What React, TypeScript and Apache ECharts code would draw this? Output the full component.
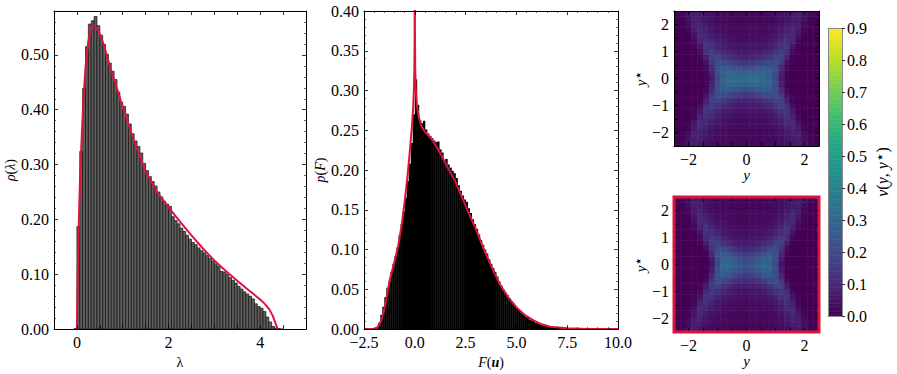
import React, { useEffect, useRef } from 'react';
import * as echarts from 'echarts';

const FONT = '"Liberation Serif", "Times New Roman", "DejaVu Serif", serif';
const RED = '#dc143c';
const VIRIDIS = ['#440154', '#482475', '#414487', '#355f8d', '#2a788e', '#21918c', '#22a884', '#44bf70', '#7ad151', '#bddf26', '#fde725'];

// ---------- panel 1: rho(lambda) ----------
const LAMBDA_BIN_START = -0.0625;
const LAMBDA_BIN_WIDTH = 0.0625;
const LAMBDA_HIST = [
  0.001,
  0.187, 0.324, 0.439, 0.515, 0.556, 0.562, 0.570, 0.553,
  0.536, 0.519, 0.501, 0.485, 0.470, 0.455, 0.432, 0.414,
  0.406, 0.392, 0.374, 0.356, 0.343, 0.333, 0.321, 0.302,
  0.289, 0.278, 0.269, 0.261, 0.250, 0.241, 0.233, 0.228,
  0.224, 0.205, 0.198, 0.192, 0.184, 0.178, 0.171, 0.164,
  0.158, 0.154, 0.148, 0.143, 0.139, 0.134, 0.129, 0.124,
  0.119, 0.114, 0.105, 0.104, 0.100, 0.094, 0.089, 0.084,
  0.078, 0.073, 0.068, 0.064, 0.060, 0.055, 0.046, 0.041,
  0.038, 0.032, 0.022, 0.013, 0.005, 0.002, 0.001, 0.0,
];
const LAMBDA_CURVE_X = [0, 0.02, 0.04, 0.07, 0.1, 0.14, 0.19, 0.25, 0.3, 0.35, 0.42, 0.5, 0.6, 0.75, 0.9, 1.0, 1.25, 1.5, 1.75, 2.0, 2.25, 2.5, 2.75, 3.0, 3.25, 3.5, 3.75, 4.0, 4.1, 4.2, 4.27, 4.32, 4.36, 4.38];
const LAMBDA_CURVE_Y = [0, 0.11, 0.19, 0.28, 0.34, 0.415, 0.48, 0.525, 0.547, 0.554, 0.55, 0.538, 0.515, 0.47, 0.432, 0.405, 0.342, 0.288, 0.25, 0.222, 0.196, 0.171, 0.147, 0.125, 0.106, 0.088, 0.071, 0.054, 0.046, 0.036, 0.025, 0.014, 0.005, 0];

// ---------- panel 2: p(F) ----------
const F_BIN_START = -2.0;
const F_BIN_WIDTH = 0.1;
const F_HIST = [
  0.000, 0.002, 0.008, 0.018, 0.028, 0.040, 0.052, 0.060, 0.072, 0.082,
  0.092, 0.103, 0.118, 0.132, 0.148, 0.165, 0.186, 0.208, 0.234, 0.270,
  0.314, 0.282, 0.263, 0.259, 0.262, 0.251, 0.246, 0.243, 0.240, 0.237,
  0.235, 0.236, 0.226, 0.222, 0.212, 0.214, 0.207, 0.203, 0.199, 0.196,
  0.190, 0.181, 0.174, 0.168, 0.163, 0.160, 0.152, 0.146, 0.138, 0.132,
  0.126, 0.119, 0.112, 0.106, 0.100, 0.095, 0.088, 0.082, 0.077, 0.072,
  0.066, 0.060, 0.055, 0.050, 0.046, 0.043, 0.039, 0.035, 0.032, 0.029,
  0.026, 0.023, 0.020, 0.018, 0.016, 0.014, 0.012, 0.011, 0.010, 0.008,
  0.007, 0.006, 0.005, 0.0045, 0.004, 0.0035, 0.003, 0.0025, 0.002, 0.0018,
  0.0015, 0.0012, 0.001, 0.0009, 0.0008, 0.0006, 0.0005, 0.0004, 0.0003, 0.0002,
];
const F_CURVE_X = [-2.5, -2.0, -1.85, -1.7, -1.55, -1.4, -1.23, -1.0, -0.82, -0.65, -0.49, -0.35, -0.25, -0.15, -0.08, -0.04, -0.02, -0.008, 0, 0.008, 0.02, 0.05, 0.1, 0.2, 0.33, 0.5, 0.82, 1.0, 1.32, 1.6, 1.97, 2.2, 2.55, 3.0, 3.37, 3.8, 4.19, 4.6, 5.02, 5.4, 5.84, 6.25, 6.66, 7.5, 8.5, 10];
const F_CURVE_Y = [0, 0, 0.002, 0.008, 0.02, 0.038, 0.062, 0.085, 0.104, 0.13, 0.162, 0.195, 0.222, 0.252, 0.279, 0.305, 0.33, 0.37, 0.46, 0.37, 0.33, 0.3, 0.283, 0.266, 0.255, 0.248, 0.239, 0.232, 0.218, 0.204, 0.187, 0.173, 0.152, 0.126, 0.102, 0.077, 0.056, 0.04, 0.027, 0.018, 0.011, 0.006, 0.003, 0.001, 0.0002, 0];

// ---------- heatmaps nu(y, y*) ----------
// quadrant grids: rows = |y*| = 0, 0.2, ..., 2.4 ; columns = |y| = 0, 0.2, ..., 2.4
const GRID_STEP = 0.2;
const NU_SAMPLED_QUADRANT = [
  [0.31, 0.32, 0.32, 0.31, 0.28, 0.19, 0.06, 0.01, 0, 0, 0, 0, 0],
  [0.28, 0.29, 0.30, 0.30, 0.28, 0.21, 0.08, 0.01, 0, 0, 0, 0, 0],
  [0.21, 0.22, 0.24, 0.26, 0.26, 0.22, 0.11, 0.02, 0, 0, 0, 0, 0],
  [0.14, 0.15, 0.17, 0.19, 0.21, 0.21, 0.15, 0.04, 0.005, 0, 0, 0, 0],
  [0.09, 0.095, 0.105, 0.125, 0.15, 0.18, 0.17, 0.08, 0.01, 0, 0, 0, 0],
  [0.065, 0.067, 0.072, 0.085, 0.105, 0.135, 0.16, 0.12, 0.03, 0, 0, 0, 0],
  [0.048, 0.049, 0.053, 0.06, 0.073, 0.095, 0.13, 0.135, 0.06, 0.01, 0, 0, 0],
  [0.038, 0.039, 0.042, 0.047, 0.056, 0.072, 0.10, 0.125, 0.09, 0.02, 0, 0, 0],
  [0.031, 0.031, 0.034, 0.038, 0.045, 0.056, 0.077, 0.105, 0.105, 0.045, 0.006, 0, 0],
  [0.026, 0.026, 0.028, 0.031, 0.036, 0.045, 0.06, 0.083, 0.10, 0.065, 0.014, 0, 0],
  [0.022, 0.022, 0.024, 0.027, 0.031, 0.037, 0.048, 0.066, 0.088, 0.075, 0.025, 0.004, 0],
  [0.019, 0.019, 0.02, 0.023, 0.026, 0.031, 0.04, 0.053, 0.072, 0.078, 0.038, 0.009, 0],
  [0.016, 0.016, 0.017, 0.019, 0.022, 0.027, 0.034, 0.044, 0.06, 0.072, 0.046, 0.015, 0.003],
];
const NU_THEORY_QUADRANT = [
  [0.22, 0.24, 0.27, 0.30, 0.29, 0.20, 0.05, 0, 0, 0, 0, 0, 0],
  [0.20, 0.22, 0.25, 0.28, 0.28, 0.21, 0.07, 0, 0, 0, 0, 0, 0],
  [0.15, 0.16, 0.19, 0.23, 0.25, 0.22, 0.10, 0.01, 0, 0, 0, 0, 0],
  [0.10, 0.11, 0.13, 0.16, 0.20, 0.21, 0.14, 0.03, 0, 0, 0, 0, 0],
  [0.07, 0.072, 0.08, 0.10, 0.13, 0.17, 0.16, 0.07, 0.005, 0, 0, 0, 0],
  [0.05, 0.052, 0.057, 0.068, 0.088, 0.12, 0.15, 0.11, 0.02, 0, 0, 0, 0],
  [0.038, 0.039, 0.043, 0.05, 0.062, 0.085, 0.12, 0.13, 0.05, 0.005, 0, 0, 0],
  [0.03, 0.031, 0.034, 0.039, 0.047, 0.062, 0.09, 0.12, 0.08, 0.015, 0, 0, 0],
  [0.025, 0.025, 0.027, 0.031, 0.037, 0.047, 0.066, 0.10, 0.10, 0.035, 0.004, 0, 0],
  [0.021, 0.021, 0.023, 0.026, 0.03, 0.037, 0.05, 0.075, 0.10, 0.055, 0.01, 0, 0],
  [0.018, 0.018, 0.019, 0.022, 0.025, 0.031, 0.04, 0.058, 0.085, 0.07, 0.02, 0.002, 0],
  [0.015, 0.015, 0.016, 0.018, 0.021, 0.026, 0.033, 0.046, 0.068, 0.075, 0.032, 0.006, 0],
  [0.013, 0.013, 0.014, 0.016, 0.018, 0.022, 0.028, 0.037, 0.054, 0.07, 0.04, 0.01, 0],
];
const COLORBAR_MIN = 0;
const COLORBAR_MAX = 0.9;
const COLORBAR_STEPS = 180;

function histItems(start: number, width: number, values: number[]) {
  return values.map((v, i) => [start + i * width, start + (i + 1) * width, v]);
}
function expandQuadrant(q: number[][]) {
  const n = q.length - 1;
  const out: number[][] = [];
  for (let j = -n; j <= n; j++) {
    for (let i = -n; i <= n; i++) {
      out.push([i * GRID_STEP, j * GRID_STEP, q[Math.abs(j)][Math.abs(i)]]);
    }
  }
  return out;
}
const minus = (s: string) => s.replace('-', '\u2212');
const near = (v: number, step: number) => Math.abs(v / step - Math.round(v / step)) < 1e-6;

const labelStyle = { fontFamily: FONT, fontSize: 16, color: '#000' };
const nameStyle = (size = 14) => ({
  fontFamily: FONT, fontSize: size, color: '#000',
  rich: {
    i: { fontFamily: FONT, fontSize: size, fontStyle: 'italic', color: '#000' },
    n: { fontFamily: FONT, fontSize: size, color: '#000' },
    b: { fontFamily: FONT, fontSize: size, fontStyle: 'italic', fontWeight: 'bold', color: '#000' },
    s: { fontFamily: '"DejaVu Sans", sans-serif', fontSize: size * 0.95, color: '#000', verticalAlign: 'top', padding: [0, 0, size * 0.35, 0] },
  },
});

type AxOpts = {
  min: number; max: number; interval: number; fmt?: (v: number) => string; minor?: number;
  name?: string; nameGap?: number; nameSize?: number; lineColor?: string; showLabel?: boolean;
  tickLen?: number; inside?: boolean; showLine?: boolean;
};
function axisPair(kind: 'x' | 'y', grid: number, o: AxOpts) {
  const base: any = {
    type: 'value', gridIndex: grid, min: o.min, max: o.max, interval: o.interval, z: 5,
    splitLine: { show: false },
    axisLine: { show: o.showLine !== false, onZero: false, lineStyle: { color: o.lineColor || '#000', width: 1 } },
    axisTick: { show: true, inside: o.inside !== false, length: o.tickLen ?? 4, lineStyle: { color: '#000', width: 0.8 } },
    minorTick: { show: !!o.minor, splitNumber: o.minor || 5, length: 2, lineStyle: { color: '#000', width: 0.6 } },
  };
  const main: any = {
    ...base,
    position: kind === 'x' ? 'bottom' : 'left',
    axisLabel: { show: o.showLabel !== false, margin: 5, ...labelStyle, formatter: o.fmt },
  };
  if (o.name) {
    main.name = o.name;
    main.nameLocation = 'middle';
    main.nameGap = o.nameGap;
    main.nameTextStyle = nameStyle(o.nameSize);
    if (kind === 'y') main.nameRotate = 90;
  }
  const mirror: any = { ...base, position: kind === 'x' ? 'top' : 'right', axisLabel: { show: false } };
  return [main, mirror];
}

function histRender(fill: string, stroke: string, lw: number, pad: number) {
  return (params: any, api: any) => {
    const p0 = api.coord([api.value(0), api.value(2)]);
    const p1 = api.coord([api.value(1), 0]);
    const style: any = { fill };
    if (lw > 0) { style.stroke = stroke; style.lineWidth = lw; }
    return {
      type: 'rect',
      shape: { x: p0[0], y: p0[1], width: p1[0] - p0[0] + pad, height: p1[1] - p0[1] },
      style,
    };
  };
}
const heatRender = (params: any, api: any) => {
  const x = api.value(0);
  const y = api.value(1);
  const h = GRID_STEP / 2;
  const p0 = api.coord([x - h, y + h]);
  const p1 = api.coord([x + h, y - h]);
  const c = api.visual('color');
  return {
    type: 'rect',
    shape: { x: p0[0], y: p0[1], width: p1[0] - p0[0] + 0.4, height: p1[1] - p0[1] + 0.4 },
    style: { fill: c, stroke: c, lineWidth: 0.2 },
  };
};
const cbStep = (COLORBAR_MAX - COLORBAR_MIN) / COLORBAR_STEPS;
const cbRender = (params: any, api: any) => {
  const y = api.value(1);
  const p0 = api.coord([0, y + cbStep / 2]);
  const p1 = api.coord([1, y - cbStep / 2]);
  const c = api.visual('color');
  return {
    type: 'rect',
    shape: { x: p0[0], y: p0[1], width: p1[0] - p0[0], height: p1[1] - p0[1] + 0.5 },
    style: { fill: c },
  };
};

export default function App() {
  const ref = useRef<HTMLDivElement>(null);
  useEffect(() => {
    if (!ref.current) return;
    const chart = echarts.init(ref.current, undefined, { renderer: 'svg' });

    const cbData: number[][] = [];
    for (let k = 0; k < COLORBAR_STEPS; k++) {
      const yc = COLORBAR_MIN + (k + 0.5) * cbStep;
      cbData.push([0.5, yc, yc]);
    }

    const hmX = (v: number) => (near(v, 2) ? minus(String(Math.round(v))) : '');
    const hmY = (v: number) => (near(v, 1) ? minus(String(Math.round(v))) : '');

    const xs = [
      ...axisPair('x', 0, { min: -0.5, max: 5, interval: 0.5, fmt: (v) => (near(v, 2) ? String(Math.round(v)) : ''), name: '\u03bb', nameGap: 12, nameSize: 14 }),
      ...axisPair('x', 1, { min: -2.5, max: 10, interval: 2.5, minor: 5, fmt: (v) => minus(v.toFixed(1)), name: '{i|F}{n|(}{b|u}{n|)}', nameGap: 12, nameSize: 14 }),
      ...axisPair('x', 2, { min: -2.5, max: 2.5, interval: 0.5, fmt: hmX, name: '{i|y}', nameGap: 15, nameSize: 15 }),
      ...axisPair('x', 3, { min: -2.5, max: 2.5, interval: 0.5, fmt: hmX, name: '{i|y}', nameGap: 15, nameSize: 15, showLine: false }),
      ...axisPair('x', 4, { min: 0, max: 1, interval: 1, showLabel: false, lineColor: '#8a8a8a', tickLen: 0 }),
    ];
    const ys = [
      ...axisPair('y', 0, { min: 0, max: 0.58, interval: 0.1, minor: 5, fmt: (v) => (near(v, 0.1) ? v.toFixed(2) : ''), name: '{i|\u03c1}{n|(}{i|\u03bb}{n|)}', nameGap: 32, nameSize: 14 }),
      ...axisPair('y', 1, { min: 0, max: 0.4, interval: 0.05, minor: 5, fmt: (v) => v.toFixed(2), name: '{i|p}{n|(}{i|F}{n|)}', nameGap: 37, nameSize: 14 }),
      ...axisPair('y', 2, { min: -2.5, max: 2.5, interval: 0.5, minor: 3, fmt: hmY, name: '{i|y}{s|\u22c6}', nameGap: 22, nameSize: 15 }),
      ...axisPair('y', 3, { min: -2.5, max: 2.5, interval: 0.5, minor: 3, fmt: hmY, name: '{i|y}{s|\u22c6}', nameGap: 22, nameSize: 15, showLine: false }),
    ];
    const cbBase: any = {
      type: 'value', gridIndex: 4, min: COLORBAR_MIN, max: COLORBAR_MAX, interval: 0.1, z: 5,
      splitLine: { show: false },
      axisLine: { show: true, onZero: false, lineStyle: { color: '#8a8a8a', width: 1 } },
    };
    ys.push({ ...cbBase, position: 'left', axisTick: { show: false }, axisLabel: { show: false } });
    ys.push({
      ...cbBase, position: 'right',
      axisTick: { show: true, inside: false, length: 3, lineStyle: { color: '#000', width: 0.8 } },
      axisLabel: { show: true, margin: 5, ...labelStyle, formatter: (v: number) => v.toFixed(1) },
      name: '{i|\u03bd}{n|(}{i|y}{n|, }{i|y}{s|\u22c6}{n|)}', nameLocation: 'middle', nameGap: 30, nameRotate: 90,
      nameTextStyle: nameStyle(16),
    });

    const option: any = {
      animation: false,
      backgroundColor: '#fff',
      grid: [
        { left: 54, top: 11, width: 252, height: 321 },
        { left: 364, top: 11, width: 254, height: 321 },
        { left: 674, top: 11, width: 145, height: 135 },
        { left: 674, top: 197, width: 145, height: 135, show: true, borderColor: RED, borderWidth: 3, backgroundColor: 'transparent', z: 10 },
        { left: 828, top: 28, width: 14, height: 288 },
      ],
      xAxis: xs,
      yAxis: ys,
      visualMap: {
        type: 'continuous', show: false, min: COLORBAR_MIN, max: COLORBAR_MAX, dimension: 2,
        seriesIndex: [4, 5, 6], inRange: { color: VIRIDIS },
      },
      series: [
        {
          type: 'custom', xAxisIndex: 0, yAxisIndex: 0, clip: true,
          renderItem: histRender('#5e5e5e', '#111111', 0.7, 0),
          encode: { x: [0, 1], y: 2 },
          data: histItems(LAMBDA_BIN_START, LAMBDA_BIN_WIDTH, LAMBDA_HIST),
        },
        {
          type: 'line', xAxisIndex: 0, yAxisIndex: 0, showSymbol: false, clip: true, z: 4,
          lineStyle: { color: RED, width: 2 },
          data: LAMBDA_CURVE_X.map((x, i) => [x, LAMBDA_CURVE_Y[i]]),
        },
        {
          type: 'custom', xAxisIndex: 2, yAxisIndex: 2, clip: true,
          renderItem: histRender('#000000', '#ffffff', 0, 0.35),
          encode: { x: [0, 1], y: 2 },
          data: histItems(F_BIN_START, F_BIN_WIDTH, F_HIST),
        },
        {
          type: 'line', xAxisIndex: 2, yAxisIndex: 2, showSymbol: false, clip: true, z: 4,
          lineStyle: { color: RED, width: 2 },
          data: F_CURVE_X.map((x, i) => [x, F_CURVE_Y[i]]),
        },
        {
          type: 'custom', xAxisIndex: 4, yAxisIndex: 4, clip: true,
          renderItem: heatRender, encode: { x: 0, y: 1 },
          data: expandQuadrant(NU_SAMPLED_QUADRANT),
        },
        {
          type: 'custom', xAxisIndex: 6, yAxisIndex: 6, clip: true,
          renderItem: heatRender, encode: { x: 0, y: 1 },
          data: expandQuadrant(NU_THEORY_QUADRANT),
        },
        {
          type: 'custom', xAxisIndex: 8, yAxisIndex: 8, clip: true,
          renderItem: cbRender, encode: { x: 0, y: 1 },
          data: cbData,
        },
      ],
    };
    chart.setOption(option);
    return () => chart.dispose();
  }, []);
  return <div ref={ref} style={{ position: 'fixed', left: 0, top: 0, width: 897, height: 374, background: '#fff' }} />;
}
